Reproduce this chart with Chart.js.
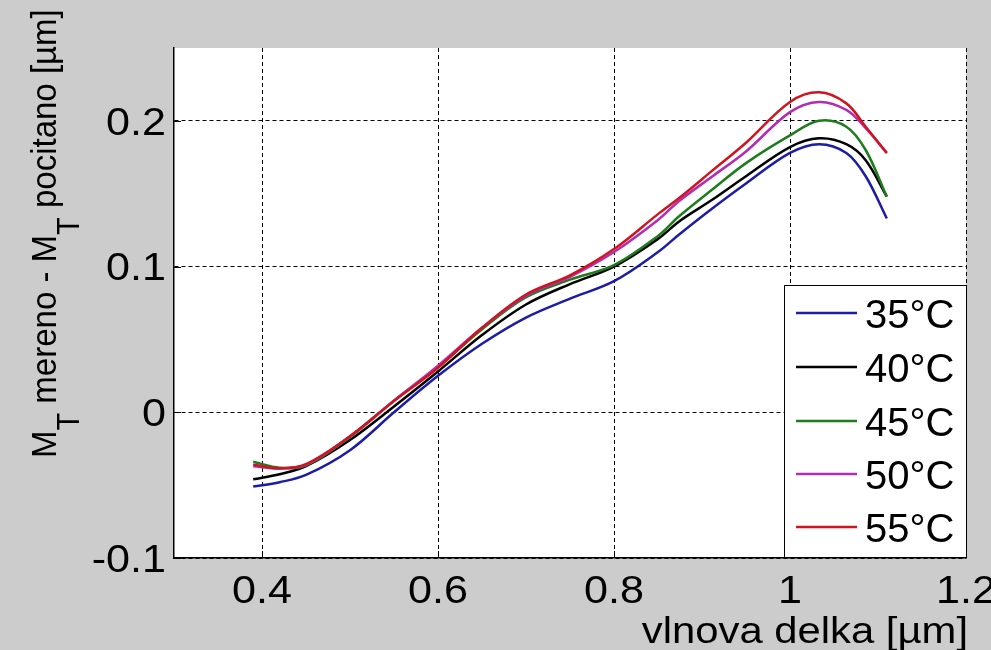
<!DOCTYPE html>
<html>
<head>
<meta charset="utf-8">
<script src="https://cdn.jsdelivr.net/npm/chart.js@4/dist/chart.umd.min.js"></script>
<style>
  html, body { margin: 0; padding: 0; background: #cccccc; }
  canvas { display: block; }
</style>
</head>
<body>
<canvas id="chart" width="991" height="650"></canvas>
<script>
// wavelength [um] shared by all curves
const wavelength = [0.39, 0.42, 0.45, 0.50, 0.55, 0.60, 0.65, 0.70, 0.75, 0.80, 0.85, 0.874, 0.912, 0.95, 1.00, 1.033, 1.064, 1.086, 1.11];

// M_T measured - M_T computed [um], one list per temperature
const t35 = [-0.051, -0.048, -0.043, -0.026, 0.000, 0.025, 0.047, 0.065, 0.078, 0.090, 0.110, 0.122, 0.140, 0.157, 0.178, 0.184, 0.178, 0.162, 0.133];
const t40 = [-0.046, -0.0425, -0.037, -0.019, 0.004, 0.028, 0.053, 0.074, 0.088, 0.100, 0.119, 0.131, 0.146, 0.162, 0.182, 0.188, 0.184, 0.173, 0.148];
const t45 = [-0.034, -0.038, -0.0365, -0.017, 0.008, 0.031, 0.057, 0.079, 0.091, 0.101, 0.121, 0.1345, 0.153, 0.171, 0.190, 0.200, 0.196, 0.180, 0.148];
const t50 = [-0.037, -0.0385, -0.036, -0.0165, 0.008, 0.032, 0.058, 0.080, 0.093, 0.110, 0.132, 0.145, 0.162, 0.179, 0.206, 0.213, 0.2075, 0.195, 0.178];
const t55 = [-0.036, -0.0385, -0.0356, -0.0164, 0.0078, 0.0306, 0.058, 0.0808, 0.094, 0.112, 0.136, 0.147, 0.166, 0.185, 0.213, 0.2196, 0.212, 0.196, 0.178];

const seriesLabels = ['35°C', '40°C', '45°C', '50°C', '55°C'];
const seriesColors = ['#1c1ca6', '#000000', '#1d7d1d', '#b32db3', '#d0141e'];

const xTickValues = [0.4, 0.6, 0.8, 1, 1.2];
const yTickValues = [-0.1, 0, 0.1, 0.2];

const FONT = '"Liberation Sans", Arial, sans-serif';

// MATLAB-ish text: slightly wide glyphs, optional rotation
function drawText(ctx, s, x, y, o) {
    ctx.save();
    ctx.translate(x, y);
    if (o.rot) ctx.rotate(o.rot);
    ctx.scale(o.sx || 1, o.sy || 1);
    ctx.font = o.size + 'px ' + FONT;
    ctx.textAlign = o.align || 'left';
    ctx.textBaseline = 'alphabetic';
    ctx.fillStyle = '#000';
    ctx.fillText(s, 0, 0);
    ctx.restore();
}

// draws a run of pieces along the baseline, subscripts dropped below it
function drawRuns(ctx, runs, x, y, rot, sy) {
    ctx.save();
    ctx.translate(x, y);
    ctx.rotate(rot);
    ctx.scale(1, sy);
    ctx.fillStyle = '#000';
    ctx.textBaseline = 'alphabetic';
    let cx = 0;
    for (const r of runs) {
        ctx.font = r.size + 'px ' + FONT;
        ctx.fillText(r.t, cx, r.dy || 0);
        cx += ctx.measureText(r.t).width;
    }
    ctx.restore();
}

const matlabAxes = {
    id: 'matlabAxes',
    beforeDraw(chart) {
        const { ctx, chartArea: a } = chart;
        ctx.save();
        ctx.fillStyle = '#cccccc';
        ctx.fillRect(0, 0, chart.width, chart.height);
        ctx.fillStyle = '#ffffff';
        ctx.fillRect(a.left, a.top, a.right - a.left, a.bottom - a.top);
        ctx.restore();
    },
    afterDraw(chart) {
        const { ctx, chartArea: a } = chart;
        const xs = chart.scales.x, ys = chart.scales.y;

        // inward tick marks
        ctx.save();
        ctx.strokeStyle = '#000';
        ctx.lineWidth = 1;
        ctx.beginPath();
        xTickValues.forEach(v => {
            const px = Math.round(xs.getPixelForValue(v)) + 0.5;
            ctx.moveTo(px, a.bottom);
            ctx.lineTo(px, a.bottom - 7);
        });
        yTickValues.forEach(v => {
            const py = Math.round(ys.getPixelForValue(v)) + 0.5;
            ctx.moveTo(a.left, py);
            ctx.lineTo(a.left + 7, py);
        });
        ctx.stroke();
        ctx.restore();

        // tick labels
        xTickValues.forEach(v => {
            drawText(ctx, String(v), xs.getPixelForValue(v), 603, { size: 38.5, sx: 1.12, align: 'center' });
        });
        yTickValues.forEach(v => {
            drawText(ctx, String(v), 166, ys.getPixelForValue(v) + 13.8, { size: 38.5, sx: 1.12, align: 'right' });
        });

        // axis titles
        drawText(ctx, 'vlnova delka [µm]', 968, 643, { size: 37, sx: 1.13, align: 'right' });
        drawRuns(ctx, [
            { t: 'M', size: 33 },
            { t: 'T', size: 29, dy: 22 },
            { t: ' mereno - M', size: 33 },
            { t: 'T', size: 29, dy: 22 },
            { t: ' pocitano [µm]', size: 33 }
        ], 56, 458, -Math.PI / 2, 1.05);

        // legend box inside the axes, lower right
        const lx0 = 784.5, ly0 = 285.5, lx1 = 966.5, ly1 = 557.5;
        ctx.save();
        ctx.fillStyle = '#ffffff';
        ctx.fillRect(lx0, ly0, lx1 - lx0, ly1 - ly0);
        ctx.strokeStyle = '#000';
        ctx.lineWidth = 1;
        ctx.strokeRect(lx0, ly0, lx1 - lx0, ly1 - ly0);
        const rows = [313, 367, 421, 474, 527];
        seriesLabels.forEach((lab, i) => {
            ctx.strokeStyle = seriesColors[i];
            ctx.lineWidth = 2.5;
            ctx.beginPath();
            ctx.moveTo(796, rows[i]);
            ctx.lineTo(857, rows[i]);
            ctx.stroke();
            drawText(ctx, lab, 865, rows[i] + 14.5, { size: 40 });
        });
        ctx.restore();
    }
};

const allSeries = [t35, t40, t45, t50, t55];

new Chart(document.getElementById('chart'), {
    type: 'line',
    data: {
        datasets: allSeries.map((vals, i) => ({
            label: seriesLabels[i],
            data: wavelength.map((w, k) => ({ x: w, y: vals[k] })),
            borderColor: seriesColors[i],
            borderWidth: 2.5,
            pointRadius: 0,
            fill: false,
            tension: 0.35,
            order: allSeries.length - i
        }))
    },
    options: {
        responsive: false,
        animation: false,
        devicePixelRatio: 1,
        layout: { padding: { left: 0, top: 48, right: 25, bottom: 0 } },
        plugins: { legend: { display: false }, tooltip: { enabled: false } },
        scales: {
            x: {
                type: 'linear',
                min: 0.3,
                max: 1.2,
                afterBuildTicks: s => { s.ticks = xTickValues.map(v => ({ value: v })); },
                afterFit: s => { s.height = 92; s.paddingLeft = 0; s.paddingRight = 0; },
                ticks: { display: false },
                grid: { color: '#000', lineWidth: 1, drawTicks: false },
                border: { display: true, color: '#000', width: 1.5, dash: [4, 3] }
            },
            y: {
                type: 'linear',
                min: -0.1,
                max: 0.25,
                afterBuildTicks: s => { s.ticks = yTickValues.map(v => ({ value: v })); },
                afterFit: s => { s.width = 174; s.paddingTop = 0; s.paddingBottom = 0; },
                ticks: { display: false },
                grid: { color: '#000', lineWidth: 1, drawTicks: false },
                border: { display: true, color: '#000', width: 1.5, dash: [4, 3] }
            }
        }
    },
    plugins: [matlabAxes]
});
</script>
</body>
</html>
